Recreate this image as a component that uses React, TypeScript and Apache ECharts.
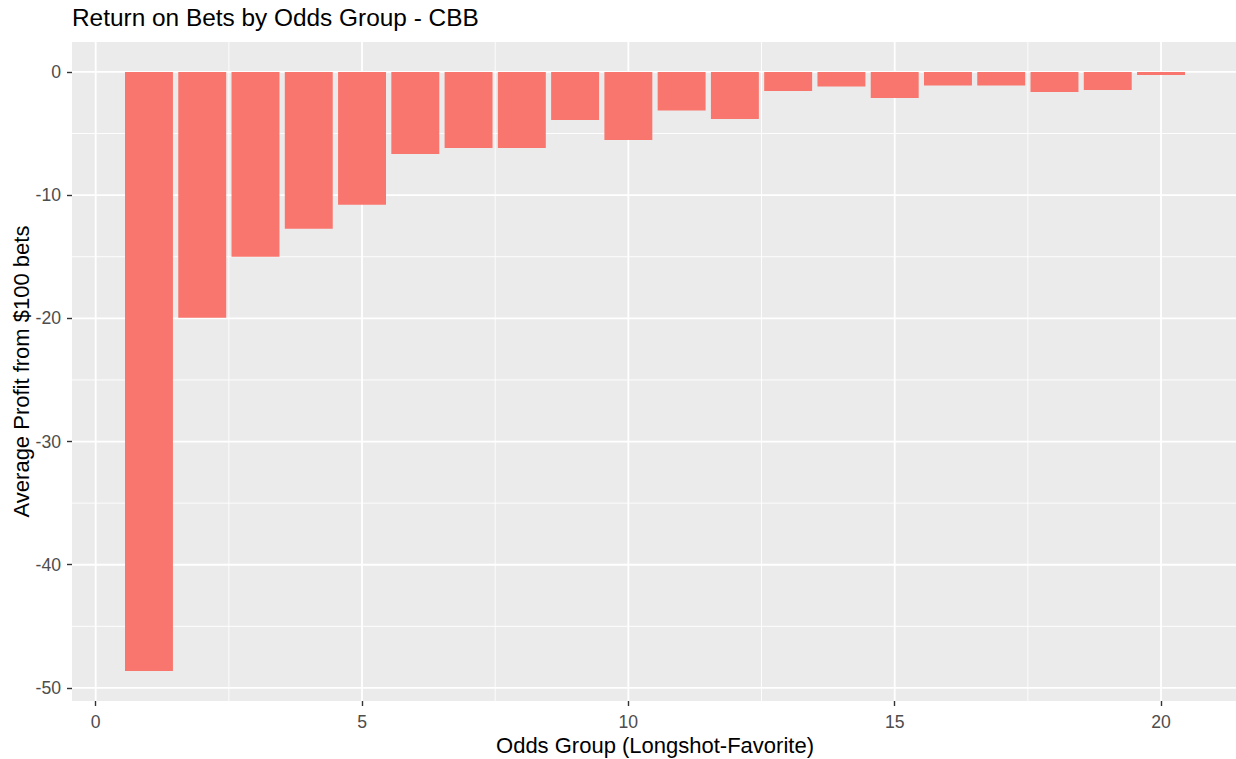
import React, { useEffect, useRef } from "react";
import * as echarts from "echarts";

const titleText = "Return on Bets by Odds Group - CBB";
const xTitle = "Odds Group (Longshot-Favorite)";
const yTitle = "Average Profit from $100 bets";

const oddsGroups = [1, 2, 3, 4, 5, 6, 7, 8, 9, 10, 11, 12, 13, 14, 15, 16, 17, 18, 19, 20];
const avgProfit = [
  -48.63, -19.95, -15.0, -12.73, -10.78, -6.66, -6.17, -6.17, -3.9, -5.52,
  -3.14, -3.82, -1.55, -1.19, -2.11, -1.11, -1.11, -1.62, -1.46, -0.24,
];

const xTicks = [0, 5, 10, 15, 20];
const xMinor = [2.5, 7.5, 12.5, 17.5];
const yTicks = [0, -10, -20, -30, -40, -50];
const yMinor = [-5, -15, -25, -35, -45];

const X_MIN = -0.445;
const X_MAX = 21.445;
const Y_MIN = -51.06;
const Y_MAX = 2.43;

const FONT = "'Liberation Sans', Arial, Helvetica, sans-serif";

export default function App() {
  const ref = useRef<HTMLDivElement>(null);

  useEffect(() => {
    if (!ref.current) return;
    const chart = echarts.init(ref.current, null, { renderer: "svg" });

    // grid line data: [value, kind] kind 0=vMajor 1=vMinor 2=hMajor 3=hMinor
    const gridData: number[][] = [
      ...xMinor.map((v) => [v, 1]),
      ...yMinor.map((v) => [v, 3]),
      ...xTicks.map((v) => [v, 0]),
      ...yTicks.map((v) => [v, 2]),
    ];

    const barData = oddsGroups.map((g, i) => [g, avgProfit[i]]);

    chart.setOption({
      animation: false,
      textStyle: { fontFamily: FONT },
      title: {
        text: titleText,
        left: 72,
        top: 5,
        padding: 0,
        textStyle: { fontSize: 24.4, fontWeight: "normal", color: "#000", fontFamily: FONT },
      },
      grid: {
        left: 72,
        top: 42,
        right: -2,
        bottom: 58,
        show: true,
        backgroundColor: "#EBEBEB",
        borderWidth: 0,
        containLabel: false,
        outerBoundsMode: "none",
      },
      xAxis: {
        type: "value",
        min: X_MIN,
        max: X_MAX,
        name: xTitle,
        nameLocation: "middle",
        nameGap: 33,
        nameMoveOverlap: false,
        nameTextStyle: { fontSize: 22, color: "#000", fontFamily: FONT },
        axisLine: { show: false, onZero: false },
        axisTick: {
          show: true,
          customValues: xTicks,
          length: 5,
          lineStyle: { color: "#333333", width: 1.4 },
        },
        axisLabel: {
          customValues: xTicks,
          color: "#4D4D4D",
          fontSize: 17.6,
          margin: 12,
          fontFamily: FONT,
        },
        splitLine: { show: false },
      },
      yAxis: {
        type: "value",
        min: Y_MIN,
        max: Y_MAX,
        name: yTitle,
        nameLocation: "middle",
        nameGap: 40,
        nameRotate: 90,
        nameMoveOverlap: false,
        nameTextStyle: { fontSize: 22, color: "#000", fontFamily: FONT },
        axisLine: { show: false, onZero: false },
        axisTick: {
          show: true,
          customValues: yTicks,
          length: 5,
          lineStyle: { color: "#333333", width: 1.4 },
        },
        axisLabel: {
          customValues: yTicks,
          color: "#4D4D4D",
          fontSize: 17.6,
          margin: 11,
          fontFamily: FONT,
        },
        splitLine: { show: false },
      },
      series: [
        {
          type: "custom",
          z: 1,
          silent: true,
          data: gridData,
          renderItem: (params: any, api: any) => {
            const v = api.value(0);
            const kind = api.value(1);
            const cs = params.coordSys;
            const w = kind === 0 || kind === 2 ? 1.8 : 0.9;
            if (kind === 0 || kind === 1) {
              const px = api.coord([v, 0])[0];
              return {
                type: "line",
                shape: { x1: px, y1: cs.y, x2: px, y2: cs.y + cs.height },
                style: { stroke: "#FFFFFF", lineWidth: w },
              };
            }
            const py = api.coord([0, v])[1];
            return {
              type: "line",
              shape: { x1: cs.x, y1: py, x2: cs.x + cs.width, y2: py },
              style: { stroke: "#FFFFFF", lineWidth: w },
            };
          },
        },
        {
          type: "custom",
          z: 2,
          data: barData,
          renderItem: (params: any, api: any) => {
            const x = api.value(0);
            const y = api.value(1);
            const p0 = api.coord([x - 0.45, 0]);
            const p1 = api.coord([x + 0.45, y]);
            return {
              type: "rect",
              shape: {
                x: p0[0],
                y: Math.min(p0[1], p1[1]),
                width: p1[0] - p0[0],
                height: Math.abs(p1[1] - p0[1]),
              },
              style: { fill: "#F8766D" },
            };
          },
        },
      ],
    });

    return () => {
      chart.dispose();
    };
  }, []);

  return (
    <div
      ref={ref}
      style={{ position: "absolute", left: 0, top: 0, width: 1236, height: 759, background: "#FFFFFF" }}
    />
  );
}
